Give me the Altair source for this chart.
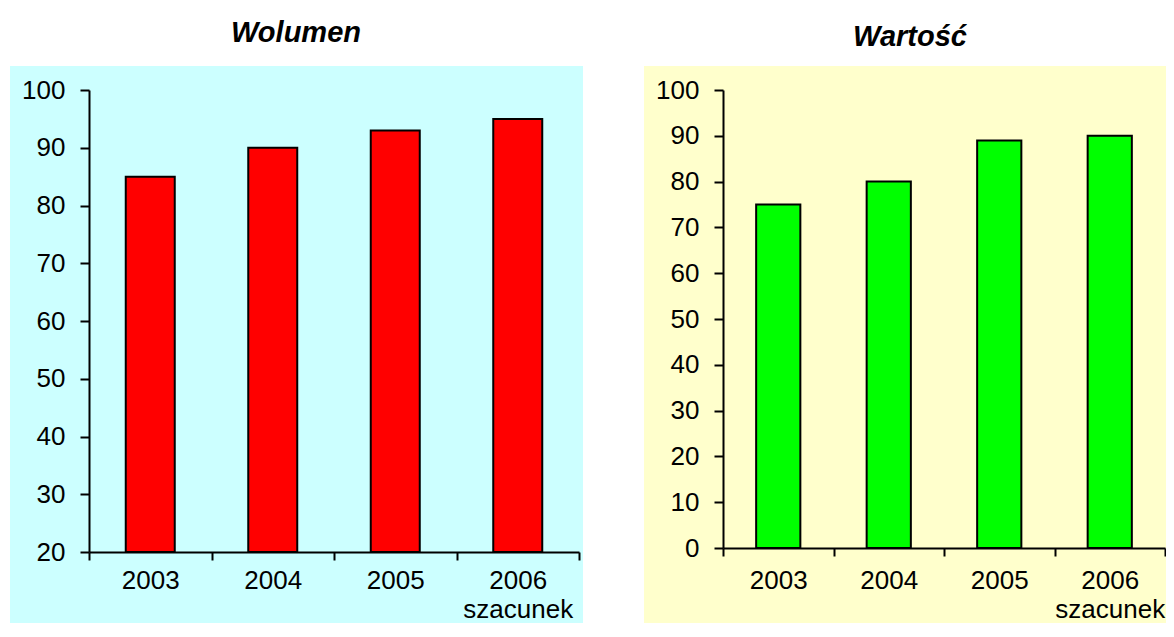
import altair as alt
import pandas as pd

# ---- data ----
years = ["2003", "2004", "2005", "2006\nszacunek"]
wolumen = [85, 90, 93, 95]
wartosc = [75, 80, 89, 90]
ticks_wol = [20, 30, 40, 50, 60, 70, 80, 90, 100]
ticks_war = [0, 10, 20, 30, 40, 50, 60, 70, 80, 90, 100]
titles = ["Wolumen", "Wartość"]

FONT = "Liberation Sans"
TOP = -82      # svg top, relative to plot origin
BOTTOM = 533   # panel bottom, relative to plot origin


def panel(values, ticks, color, bg, title, width, height, xpad, rect_right, tx, ty):
    df = pd.DataFrame({"rok": years, "v": values})
    lo, hi = ticks[0], ticks[-1]
    one = pd.DataFrame({"t": [title]})
    frame = alt.Chart(one).mark_rect(opacity=0).encode(
        x=alt.value(0), x2=alt.value(10), y=alt.value(TOP), y2=alt.value(BOTTOM)
    )
    background = alt.Chart(one).mark_rect(color=bg).encode(
        x=alt.value(-79), x2=alt.value(rect_right),
        y=alt.value(-24), y2=alt.value(BOTTOM),
    )
    head = alt.Chart(one).mark_text(
        font=FONT, fontSize=29, fontWeight="bold", fontStyle="italic",
        color="black", baseline="alphabetic", align="center",
    ).encode(x=alt.value(tx), y=alt.value(ty), text="t:N")
    bars = alt.Chart(df).mark_bar(
        color=color, stroke="black", strokeWidth=2, width=alt.RelativeBandSize(0.4)
    ).encode(
        x=alt.X(
            "rok:N", sort=years,
            scale=alt.Scale(paddingInner=0, paddingOuter=0),
            axis=alt.Axis(
                title=None, labelAngle=0, tickBand="extent", tickSize=8,
                labelPadding=xpad, labelLineHeight=29,
                labelExpr="split(datum.label, '\\n')", zindex=1,
            ),
        ),
        y=alt.Y(
            "v:Q",
            scale=alt.Scale(domain=[lo, hi], nice=False, zero=False),
            axis=alt.Axis(title=None, values=ticks, tickSize=9, labelPadding=15, zindex=1),
        ),
        y2=alt.datum(lo),
    )
    return alt.layer(frame, background, head, bars).properties(width=width, height=height)


left = panel(wolumen, ticks_wol, "#FF0000", "#CCFFFF", titles[0], 490, 462, 7, 494, 207, -48)
right = panel(wartosc, ticks_war, "#00FF00", "#FFFFCC", titles[1], 442, 458, 11, 443, 187, -44)

chart = alt.hconcat(left, right, spacing=61).properties(
    padding={"left": 2, "top": 0, "right": 0, "bottom": 0}
).configure_view(strokeWidth=0).configure_axis(
    labelFont=FONT, labelFontSize=26, labelColor="black",
    domainColor="black", domainWidth=2, tickColor="black", tickWidth=2,
    grid=False, labelOverlap=False,
)

chart.save("out.html", embed_options={"renderer": "svg", "actions": False})
